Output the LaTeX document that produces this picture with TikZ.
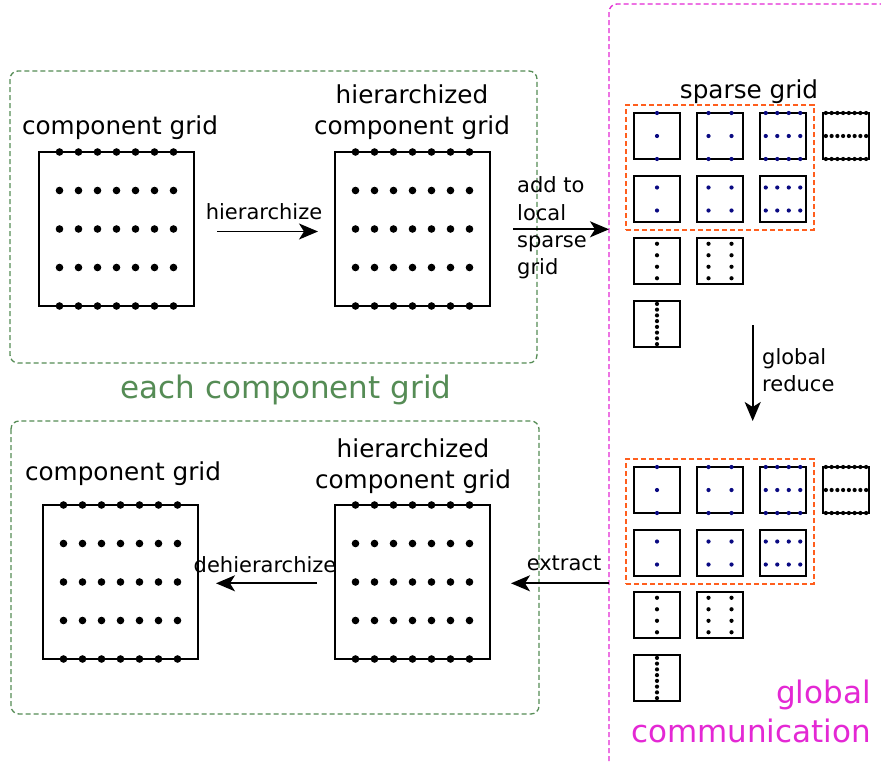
\documentclass[tikz,border=0pt]{standalone}
\usepackage{fontspec}
\setmainfont{DejaVu Sans}
\usetikzlibrary{arrows.meta,fit}
\definecolor{grn}{RGB}{85,140,85}
\definecolor{mag}{RGB}{228,40,212}
\definecolor{org}{RGB}{255,95,30}
\definecolor{dotblue}{RGB}{10,10,130}
\tikzset{
  bigsq/.style={draw,line width=1.7pt,minimum width=155pt,minimum height=154pt,inner sep=0pt},
  smsq/.style={draw,line width=1.6pt,minimum size=46pt,inner sep=0pt},
  greenbox/.style={draw=grn,line width=1.3pt,dash pattern=on 5pt off 3pt,rounded corners=8pt},
  magbox/.style={draw=mag,line width=1.3pt,dash pattern=on 5pt off 3pt,rounded corners=8pt},
  orgbox/.style={draw=org,line width=1.6pt,dash pattern=on 5pt off 3pt,inner sep=7pt},
  biglabel/.style={inner sep=0pt,align=center,font=\fontsize{24.7}{31}\selectfont},
  smalllabel/.style={inner sep=0pt,font=\fontsize{21}{27.3}\selectfont},
  hugelabel/.style={inner sep=0pt,font=\fontsize{31}{39}\selectfont},
  arr/.style={line width=1.7pt,-{Stealth[length=19pt,width=16pt,inset=5pt]}}
}
\newcommand\mybiggrid[3]{%
  \node[bigsq] (#1) at ({#2+77.5},{#3+77}) {};
  \foreach \j in {0,...,4}{\foreach \i in {-3,...,3}{%
    \fill ({#2+77.5+19*\i},{#3+38.5*\j}) circle[radius=3.8pt];}}%
}
\newcommand\mysparsegrid[2]{%
  \foreach \r in {1,...,4}{%
    \foreach \c in {1,...,4}{%
      \pgfmathtruncatemacro\s{\r+\c}%
      \ifnum\s<6
        \pgfmathsetmacro\X{634+63*(\c-1)}%
        \pgfmathsetmacro\Y{#2+113+round(62.7*(\r-1))}%
        \node[smsq] (#1\r\c) at ({\X+23},{\Y+23}) {};
        \pgfmathtruncatemacro\isblue{(\r<3)&&(\c<4)}%
        \ifnum\isblue=1 \def\dc{dotblue}\else\def\dc{black}\fi
        \pgfmathtruncatemacro\nx{2^(\c-1)}%
        \ifnum\r=1
          \foreach \fy in {0,0.5,1}{\foreach \k in {1,...,\nx}{%
            \fill[\dc] ({\X+46*(2*\k-1)/(2*\nx)},{\Y+46*\fy}) circle[radius=2.1pt];}}%
        \else
          \pgfmathtruncatemacro\ny{2^(\r-1)}%
          \foreach \m in {1,...,\ny}{\foreach \k in {1,...,\nx}{%
            \fill[\dc] ({\X+46*(2*\k-1)/(2*\nx)},{\Y+46*(2*\m-1)/(2*\ny)}) circle[radius=2.1pt];}}%
        \fi
      \fi
    }%
  }%
}
\begin{document}
\begin{tikzpicture}[x=1pt,y=-1pt]
\useasboundingbox[fill=white] (0,0) rectangle (881,761);

% frames
\draw[greenbox] (10,71) rectangle (537,363);
\draw[greenbox] (11,421) rectangle (539,714);
\draw[magbox] (609,761) |- (881,4);

% component grids
\mybiggrid{cgA}{39}{152}
\mybiggrid{hgA}{335}{152}
\mybiggrid{cgB}{43}{505}
\mybiggrid{hgB}{335}{505}

% sparse grids
\mysparsegrid{t}{0}
\mysparsegrid{b}{354}
\node[orgbox,fit=(t11)(t23)] (tbox) {};
\node[orgbox,fit=(b11)(b23)] (bbox) {};

% labels
\node[biglabel] (lcgA) at (120,128) {component grid};
\node[biglabel] (lhgA) at (412,112) {hierarchized\\component grid};
\node[biglabel] (lcgB) at (123,474) {component grid};
\node[biglabel] (lhgB) at (413,466) {hierarchized\\component grid};
\node[biglabel] (lsg) at (749,92) {sparse grid};
\node[smalllabel] (lh) at (264,212) {hierarchize};
\node[smalllabel] (ldh) at (265,565) {dehierarchize};
\node[smalllabel] (lex) at (564,563) {extract};
\node[smalllabel,align=left,anchor=west] (ladd) at (517,228) {add to\\local\\sparse\\grid};
\node[smalllabel,align=left,anchor=west] (lgr) at (762,370) {global\\reduce};
\node[hugelabel,text=grn] (leach) at (286,390) {each component grid};
\node[hugelabel,text=mag,align=right,anchor=east] (lglob) at (871,711) {global\\communication};

% arrows
\coordinate (h1) at (217,231.5);
\coordinate (h2) at (318,231.5);
\coordinate (a1) at (513,229.3);
\coordinate (a2) at (609,229.3);
\coordinate (r1) at (752.7,325);
\coordinate (r2) at (752.7,421);
\coordinate (e1) at (609,583.3);
\coordinate (e2) at (511,583.3);
\coordinate (d1) at (317,583.3);
\coordinate (d2) at (216,583.3);
\draw[arr] (h1) -- (h2);
\draw[arr] (a1) -- (a2);
\draw[arr] (r1) -- (r2);
\draw[arr] (e1) -- (e2);
\draw[arr] (d1) -- (d2);
\end{tikzpicture}
\end{document}
